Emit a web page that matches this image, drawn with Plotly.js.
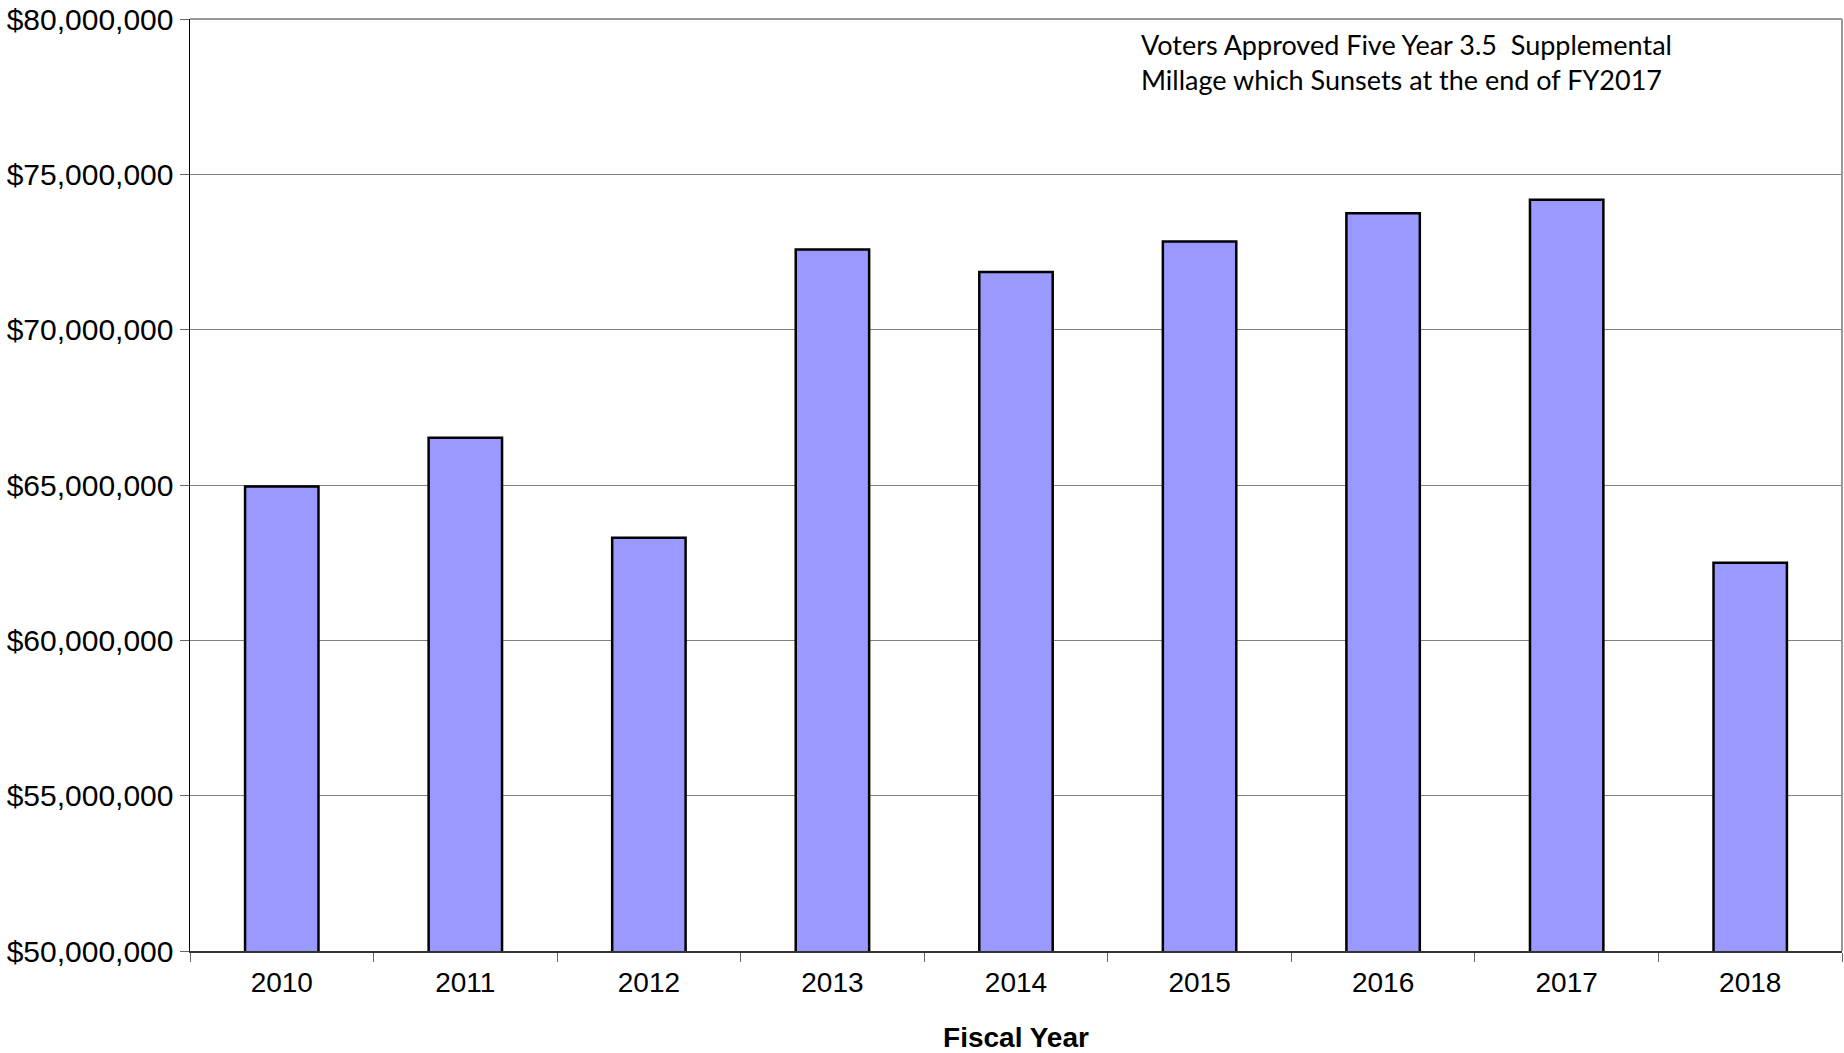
<!DOCTYPE html>
<html>
<head>
<meta charset="utf-8">
<script src="https://cdn.plot.ly/plotly-3.0.1.min.js"></script>
<style>html,body{margin:0;padding:0;background:#fff;}#chart{width:1844px;height:1053px;}</style>
</head>
<body>
<div id="chart"></div>
<script>
const years = ['2010','2011','2012','2013','2014','2015','2016','2017','2018'];
const revenue = [64950000, 66520000, 63300000, 72580000, 71860000, 72840000, 73750000, 74180000, 62500000];
const yTickValues = [50000000, 55000000, 60000000, 65000000, 70000000, 75000000, 80000000];
const noteLines = ['Voters Approved Five Year 3.5  Supplemental', 'Millage which Sunsets at the end of FY2017'];

const trace = {
  type: 'bar',
  x: years,
  y: revenue,
  width: 0.4,
  marker: {color: '#9999FF', line: {color: '#000000', width: 2.5}},
  hoverinfo: 'x+y'
};

const layout = {
  width: 1844, height: 1053,
  margin: {l: 190, r: 2, t: 19, b: 102},
  paper_bgcolor: '#ffffff', plot_bgcolor: '#ffffff',
  showlegend: false,
  font: {family: 'Liberation Sans, Arial, sans-serif', color: '#000', size: 28},
  xaxis: {
    type: 'category',
    tickson: 'boundaries',
    ticks: 'outside', ticklen: 9, tickcolor: '#666', tickwidth: 1,
    ticklabelstandoff: 6,
    showline: true, linecolor: '#333', linewidth: 1.5,
    showgrid: false,
    tickfont: {size: 28},
    title: {text: 'Fiscal Year', font: {size: 28, family: 'Liberation Sans, Arial, sans-serif', weight: 'bold'}, standoff: 30}
  },
  yaxis: {
    range: [50000000, 80000000],
    tickvals: yTickValues,
    tickformat: '$,.0f',
    ticks: 'outside', ticklen: 9, tickcolor: '#666', tickwidth: 1,
    showline: true, linecolor: '#000', linewidth: 1.5,
    showgrid: true, gridcolor: '#808080', gridwidth: 1,
    zeroline: false,
    tickfont: {size: 30}
  },
  shapes: [
    {type: 'line', xref: 'paper', yref: 'paper', x0: 0, x1: 1, y0: 1, y1: 1, line: {color: '#999', width: 2}},
    {type: 'line', xref: 'paper', yref: 'paper', x0: 1, x1: 1, y0: 0, y1: 1, line: {color: '#999', width: 2}}
  ],
  annotations: [{
    xref: 'paper', yref: 'paper',
    x: 0.5745, y: 0.993, xanchor: 'left', yanchor: 'top',
    align: 'left', showarrow: false,
    text: noteLines.join('<br>'),
    font: {family: 'Lato, Open Sans, sans-serif', size: 27, color: '#000'}
  }]
};

Plotly.newPlot('chart', [trace], layout, {displayModeBar: false, staticPlot: true});
</script>
</body>
</html>
